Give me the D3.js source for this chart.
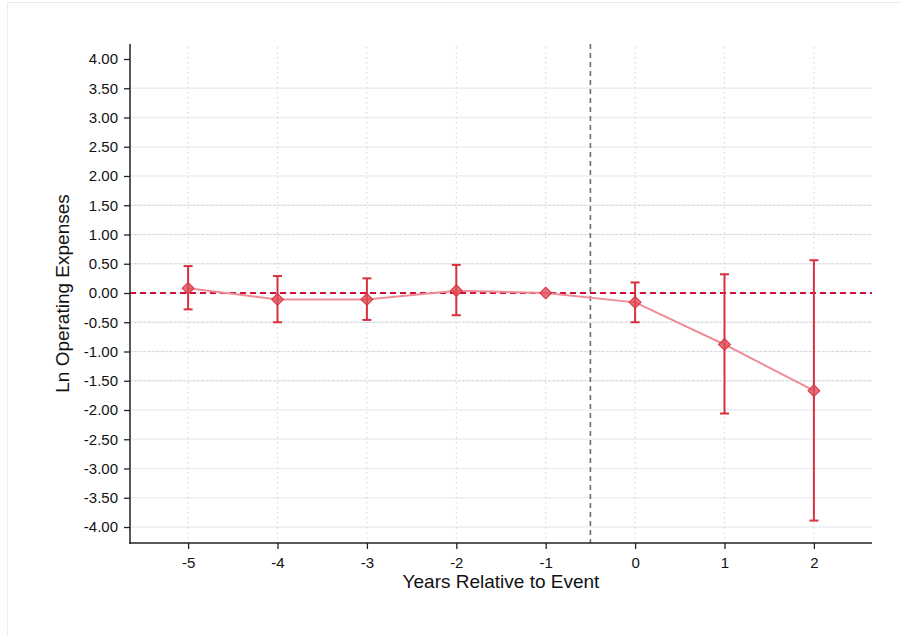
<!DOCTYPE html>
<html>
<head>
<meta charset="utf-8">
<script src="https://cdn.jsdelivr.net/npm/d3@7"></script>
<style>
  html, body { margin: 0; padding: 0; background: #fff; }
  svg { display: block; font-family: "Liberation Sans", Arial, Helvetica, sans-serif; }
</style>
</head>
<body>
<svg id="chart" width="902" height="636"></svg>
<script>
// Event-study coefficients with 95% confidence intervals
const years = [-5, -4, -3, -2, -1, 0, 1, 2];
const coef  = [0.08, -0.11, -0.11, 0.04, 0.00, -0.16, -0.88, -1.67];
const ciLow = [-0.28, -0.50, -0.46, -0.38, null, -0.50, -2.06, -3.89];
const ciHigh = [0.46, 0.29, 0.25, 0.48, null, 0.18, 0.32, 0.56];
const yTicks = [4, 3.5, 3, 2.5, 2, 1.5, 1, 0.5, 0, -0.5, -1, -1.5, -2, -2.5, -3, -3.5, -4];
const eventLine = -0.5;

(function () {
const svg = d3.select("#chart");
const plotL = 130, plotR = 872, plotT = 44, plotB = 543;

// faint outer frame
svg.append("rect").attr("x", 7.5).attr("y", 2.5).attr("width", 900).attr("height", 640)
  .attr("fill", "none").attr("stroke", "#ececec");

const x = d3.scaleLinear().domain([-5.65, 2.65]).range([plotL, plotR]);
const y = d3.scaleLinear().domain([-4, 4]).range([527, 59]);

// horizontal grid
const grid = svg.append("g");
yTicks.filter(v => v !== 4).forEach(v => {
  grid.append("line").attr("x1", plotL).attr("x2", plotR)
    .attr("y1", y(v)).attr("y2", y(v))
    .attr("stroke", "#e9eff2").attr("stroke-width", 1.6);
  if (Math.abs(v) <= 1.5 && v !== 0) {
    grid.append("line").attr("x1", plotL).attr("x2", plotR)
      .attr("y1", y(v)).attr("y2", y(v))
      .attr("stroke", "#cdd1d4").attr("stroke-width", 1.2)
      .attr("stroke-dasharray", "1.5,3");
  }
});
// vertical dotted grid at each year
years.forEach(v => {
  grid.append("line").attr("x1", x(v)).attr("x2", x(v))
    .attr("y1", plotT + 3).attr("y2", plotB)
    .attr("stroke", "#d4d6d8").attr("stroke-width", 1.1)
    .attr("stroke-dasharray", "1.5,3.5");
});

// event line
svg.append("line").attr("x1", x(eventLine)).attr("x2", x(eventLine))
  .attr("y1", plotT).attr("y2", plotB)
  .attr("stroke", "#6e6e6e").attr("stroke-width", 1.6)
  .attr("stroke-dasharray", "5,4");

// zero reference line
svg.append("line").attr("x1", plotL).attr("x2", plotR)
  .attr("y1", y(0)).attr("y2", y(0))
  .attr("stroke", "#d0103a").attr("stroke-width", 1.8)
  .attr("stroke-dasharray", "6,4");

// connecting line
const pts = years.map((v, i) => ({ x: v, y: coef[i], lo: ciLow[i], hi: ciHigh[i] }));
svg.append("path").datum(pts)
  .attr("d", d3.line().x(d => x(d.x)).y(d => y(d.y)))
  .attr("fill", "none").attr("stroke", "#ee8d95").attr("stroke-width", 2);

// confidence intervals
const ci = svg.append("g").attr("stroke", "#d9303e").attr("stroke-width", 2);
pts.filter(d => d.lo !== null).forEach(d => {
  ci.append("line").attr("x1", x(d.x)).attr("x2", x(d.x)).attr("y1", y(d.lo)).attr("y2", y(d.hi));
  ci.append("line").attr("x1", x(d.x) - 4.5).attr("x2", x(d.x) + 4.5).attr("y1", y(d.lo)).attr("y2", y(d.lo));
  ci.append("line").attr("x1", x(d.x) - 4.5).attr("x2", x(d.x) + 4.5).attr("y1", y(d.hi)).attr("y2", y(d.hi));
});

// diamond markers
const sym = d3.symbol().type(d3.symbolSquare).size(70);
svg.append("g").selectAll("path").data(pts).join("path")
  .attr("d", sym)
  .attr("transform", d => `translate(${x(d.x)},${y(d.y)}) rotate(45)`)
  .attr("fill", "#df4f5a").attr("fill-opacity", 0.8)
  .attr("stroke", "#d9303e").attr("stroke-width", 1);

// axes
const yAxis = d3.axisLeft(y).tickValues(yTicks).tickSize(6).tickSizeOuter(0);
const gy = svg.append("g").attr("transform", `translate(${plotL},0)`).call(yAxis);
gy.select(".domain").remove();
gy.append("line").attr("x1", 0).attr("x2", 0).attr("y1", plotT).attr("y2", plotB + 0.75)
  .attr("stroke", "#222").attr("stroke-width", 1.5);
gy.selectAll(".tick line").attr("stroke", "#222").attr("stroke-width", 1.3);
gy.selectAll(".tick text").attr("x", -12).attr("font-size", 15).attr("fill", "#111")
  .attr("font-family", "Liberation Sans, Arial, sans-serif")
  .text(d => d3.format(".2f")(d).replace("\u2212", "-"));

const xAxis = d3.axisBottom(x).tickValues(years).tickFormat(d => String(d)).tickSize(6).tickSizeOuter(0);
const gx = svg.append("g").attr("transform", `translate(0,${plotB})`).call(xAxis);
gx.select(".domain").remove();
gx.append("line").attr("x1", plotL - 0.75).attr("x2", plotR).attr("y1", 0).attr("y2", 0)
  .attr("stroke", "#222").attr("stroke-width", 1.5);
gx.selectAll(".tick line").attr("stroke", "#222").attr("stroke-width", 1.3);
gx.selectAll(".tick text").attr("y", 14).attr("font-size", 15).attr("fill", "#111")
  .attr("font-family", "Liberation Sans, Arial, sans-serif");

// titles
svg.append("text").attr("x", (plotL + plotR) / 2).attr("y", 588)
  .attr("text-anchor", "middle").attr("font-size", 19).attr("fill", "#111")
  .text("Years Relative to Event");
svg.append("text").attr("transform", `translate(69,${(plotT + plotB) / 2}) rotate(-90)`)
  .attr("text-anchor", "middle").attr("font-size", 19).attr("fill", "#111")
  .text("Ln Operating Expenses");
})();
</script>
</body>
</html>
